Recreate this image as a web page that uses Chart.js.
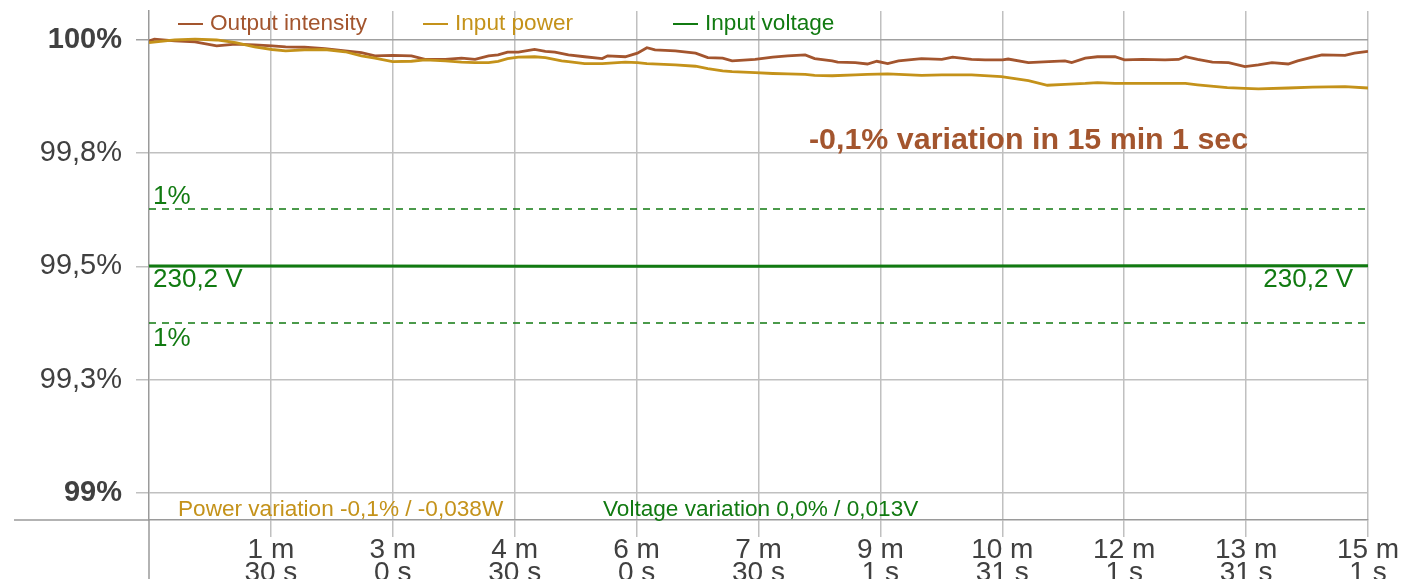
<!DOCTYPE html>
<html>
<head>
<meta charset="utf-8">
<script src="https://cdn.jsdelivr.net/npm/chart.js@4.4.1/dist/chart.umd.min.js"></script>
<style>
  body { margin: 0; background: #fff; }
  #chart { display: block; }
</style>
</head>
<body>
<canvas id="chart" width="1417" height="579"></canvas>
<script>
// time in seconds from start, values in % of start value
const intensityTimes = [0,4,19,34,50,64,78,91,101,115,130,145,157,167,180,194,204,219,231,241,251,258,265,273,285,293,300,310,322,335,339,352,361,368,374,389,404,413,424,431,448,461,472,485,492,505,509,522,531,538,546,554,571,586,594,608,618,631,635,650,665,677,682,692,701,714,721,734,751,761,766,775,786,798,810,820,830,842,849,860,867,884,891,901];
const outputIntensity = [99.998,100.002,99.998,99.996,99.987,99.991,99.989,99.987,99.985,99.984,99.981,99.976,99.972,99.965,99.966,99.965,99.957,99.957,99.960,99.957,99.965,99.967,99.973,99.973,99.979,99.975,99.973,99.967,99.963,99.959,99.965,99.963,99.971,99.983,99.978,99.976,99.971,99.961,99.960,99.954,99.957,99.962,99.965,99.967,99.959,99.954,99.951,99.950,99.947,99.953,99.948,99.954,99.959,99.957,99.962,99.957,99.956,99.956,99.958,99.950,99.952,99.954,99.950,99.960,99.963,99.963,99.956,99.957,99.956,99.957,99.963,99.957,99.951,99.950,99.941,99.945,99.950,99.947,99.954,99.962,99.967,99.966,99.971,99.975];

const powerTimes = [0,19,34,50,64,78,91,101,115,130,145,157,167,180,194,204,219,231,241,251,258,265,273,285,293,305,310,322,335,352,361,368,389,404,413,424,431,448,461,472,485,492,505,522,531,546,571,586,608,630,650,664,677,692,701,714,734,751,766,775,797,810,820,842,860,884,901];
const inputPower = [99.994,100.000,100.002,100.000,99.994,99.985,99.979,99.976,99.978,99.979,99.974,99.965,99.960,99.952,99.953,99.956,99.954,99.951,99.950,99.950,99.953,99.959,99.962,99.963,99.961,99.954,99.952,99.948,99.948,99.951,99.950,99.948,99.945,99.942,99.937,99.932,99.930,99.928,99.926,99.925,99.924,99.922,99.921,99.923,99.924,99.925,99.922,99.923,99.923,99.919,99.910,99.900,99.902,99.904,99.906,99.904,99.904,99.904,99.904,99.901,99.895,99.893,99.892,99.894,99.896,99.897,99.894];

const voltageTimes = [0,150,300,450,600,750,901];
const inputVoltage = [230.20,230.20,230.19,230.19,230.20,230.21,230.21];
const nominalVoltage = 230.2;
const voltageTolerance = 0.01;

const yTicks = [99, 99.25, 99.5, 99.75, 100];
const yTickLabels = ['99%', '99,3%', '99,5%', '99,8%', '100%'];
const yTickBold = [true, false, false, false, true];

const xTicks = [90.1, 180.2, 270.3, 360.4, 450.5, 540.6, 630.7, 720.8, 810.9, 901];
const xTickLabels = [['1 m','30 s'],['3 m','0 s'],['4 m','30 s'],['6 m','0 s'],['7 m','30 s'],['9 m','1 s'],['10 m','31 s'],['12 m','1 s'],['13 m','31 s'],['15 m','1 s']];

const seriesLabels = ['Output intensity', 'Input power', 'Input voltage'];
const summaryText = '-0,1% variation in 15 min 1 sec';
const powerText = 'Power variation -0,1% / -0,038W';
const voltageText = 'Voltage variation 0,0% / 0,013V';

const BROWN = '#a3552e';
const GOLD = '#c4921a';
const GREEN = '#117a11';
const FONT = '"Liberation Sans", Arial, sans-serif';

Chart.defaults.font.family = FONT;

const toXY = (xs, ys) => xs.map((x, i) => ({ x: x, y: ys[i] }));
const flat = (v) => [{ x: 0, y: v }, { x: 901, y: v }];

// axis lines running past the chart area
const axisExtend = {
    id: 'axisExtend',
    afterDraw(chart) {
        const c = chart.ctx, a = chart.chartArea;
        c.save();
        c.strokeStyle = '#9a9a9a';
        c.lineWidth = 1.5;
        c.beginPath();
        c.moveTo(a.left, a.bottom);
        c.lineTo(a.left, chart.height);
        c.moveTo(14, a.bottom);
        c.lineTo(a.left, a.bottom);
        c.stroke();
        c.restore();
    }
};

const legendAndText = {
    id: 'legendAndText',
    afterDatasetsDraw(chart) {
        const c = chart.ctx;
        const yV = chart.scales.yV;
        const a = chart.chartArea;
        c.save();

        // legend
        const legendX = [178, 423, 673];
        const colors = [BROWN, GOLD, GREEN];
        c.font = '22.6px ' + FONT;
        c.textBaseline = 'middle';
        c.textAlign = 'left';
        seriesLabels.forEach((lab, i) => {
            c.strokeStyle = colors[i];
            c.lineWidth = 2;
            c.beginPath();
            c.moveTo(legendX[i], 24);
            c.lineTo(legendX[i] + 25, 24);
            c.stroke();
            c.fillStyle = colors[i];
            c.fillText(lab, legendX[i] + 32, 24);
        });

        // summary
        c.font = 'bold 30.4px ' + FONT;
        c.fillStyle = BROWN;
        c.textBaseline = 'alphabetic';
        c.fillText(summaryText, 809, 149);

        // voltage labels
        const yNom = yV.getPixelForValue(nominalVoltage);
        const yHi = yV.getPixelForValue(nominalVoltage * (1 + voltageTolerance));
        const yLo = yV.getPixelForValue(nominalVoltage * (1 - voltageTolerance));
        c.font = '26px ' + FONT;
        c.fillStyle = GREEN;
        c.textBaseline = 'alphabetic';
        c.fillText('1%', a.left + 4, yHi - 5);
        c.textBaseline = 'top';
        c.fillText('1%', a.left + 4, yLo + 3);
        c.fillText(nominalVoltage.toFixed(1).replace('.', ',') + ' V', a.left + 4, yNom + 1);
        c.textAlign = 'right';
        c.fillText(nominalVoltage.toFixed(1).replace('.', ',') + ' V', a.right - 15, yNom + 1);

        // variation texts
        c.font = '22.6px ' + FONT;
        c.textAlign = 'left';
        c.textBaseline = 'alphabetic';
        c.fillStyle = GOLD;
        c.fillText(powerText, 178, 516);
        c.fillStyle = GREEN;
        c.fillText(voltageText, 603, 516);
        c.restore();
    }
};

new Chart(document.getElementById('chart'), {
    type: 'line',
    data: {
        datasets: [{
            label: seriesLabels[2] + ' +1%',
            data: flat(nominalVoltage * (1 + voltageTolerance)),
            yAxisID: 'yV',
            borderColor: GREEN,
            borderWidth: 1.3,
            borderDash: [7, 6]
        }, {
            label: seriesLabels[2] + ' -1%',
            data: flat(nominalVoltage * (1 - voltageTolerance)),
            yAxisID: 'yV',
            borderColor: GREEN,
            borderWidth: 1.3,
            borderDash: [7, 6]
        }, {
            label: seriesLabels[2],
            data: toXY(voltageTimes, inputVoltage),
            yAxisID: 'yV',
            borderColor: GREEN,
            borderWidth: 2.8
        }, {
            label: seriesLabels[1],
            data: toXY(powerTimes, inputPower),
            borderColor: GOLD,
            borderWidth: 2.8
        }, {
            label: seriesLabels[0],
            data: toXY(intensityTimes, outputIntensity),
            borderColor: BROWN,
            borderWidth: 2.8
        }]
    },
    options: {
        responsive: false,
        devicePixelRatio: 1,
        animation: false,
        layout: { padding: { top: 11, right: 49, left: 0, bottom: 0 } },
        elements: { point: { radius: 0 }, line: { tension: 0, fill: false } },
        plugins: { legend: { display: false }, tooltip: { enabled: false } },
        scales: {
            x: {
                type: 'linear',
                min: 0,
                max: 901,
                afterBuildTicks: s => { s.ticks = xTicks.map(v => ({ value: v })); },
                afterFit: s => { s.height = 59; s.paddingLeft = 0; s.paddingRight = 0; },
                ticks: {
                    callback: (v, i) => xTickLabels[i],
                    font: { size: 28, lineHeight: 0.82 },
                    color: '#404040',
                    padding: 2,
                    maxRotation: 0,
                    autoSkip: false
                },
                grid: { color: '#c0c0c0', lineWidth: 1.5, tickLength: 17 },
                border: { color: '#9a9a9a', width: 1.5 }
            },
            y: {
                min: 98.94,
                max: 100.064,
                afterBuildTicks: s => { s.ticks = yTicks.map(v => ({ value: v })); },
                afterFit: s => { s.width = 149; s.paddingTop = 0; s.paddingBottom = 0; },
                ticks: {
                    callback: (v, i) => yTickLabels[i],
                    font: ctx => ({ size: 29, weight: yTickBold[ctx.index] ? 'bold' : 'normal' }),
                    color: '#404040',
                    padding: 14
                },
                grid: { color: ctx => ctx.index === 4 ? '#a0a0a0' : '#c0c0c0', lineWidth: 1.5, tickLength: 13 },
                border: { color: '#9a9a9a', width: 1.5 }
            },
            yV: {
                display: false,
                min: 219.942,
                max: 240.498
            }
        }
    },
    plugins: [axisExtend, legendAndText]
});
</script>
</body>
</html>
